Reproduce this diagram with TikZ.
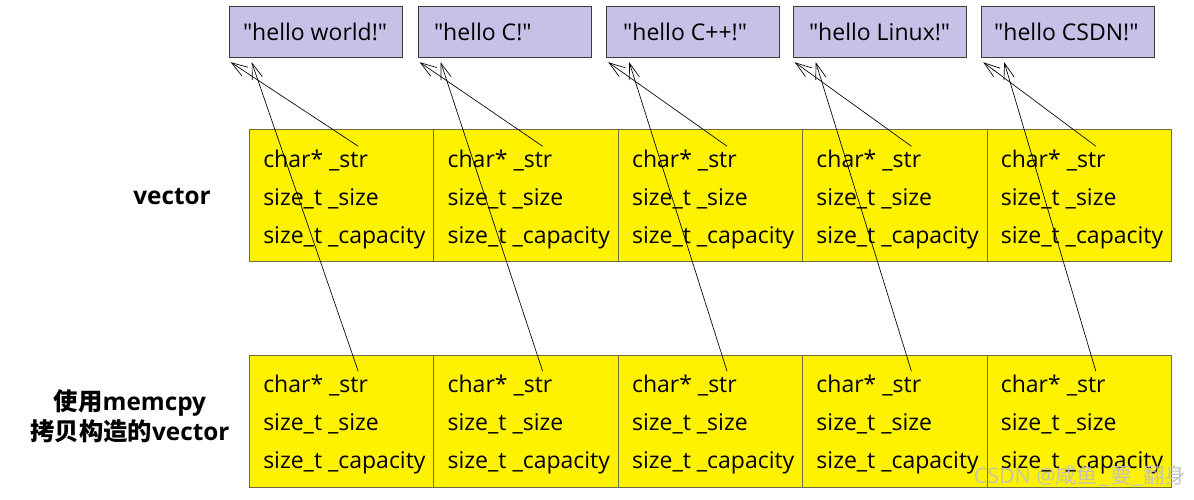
\documentclass[tikz,border=0pt]{standalone}
\usepackage{fontspec}
\setmainfont{Open Sans}
\newfontfamily\cjk{Noto Sans CJK SC}
\usetikzlibrary{arrows.meta}
\definecolor{strfill}{RGB}{200,192,230}
\definecolor{strline}{RGB}{60,60,60}
\definecolor{cellfill}{RGB}{255,242,0}
\definecolor{cellline}{RGB}{110,110,60}
\tikzset{
 every node/.style={font=\fontsize{17.25}{20}\selectfont},
 strbox/.style={draw=strline, fill=strfill, minimum width=129.75pt,
   minimum height=38.25pt, inner sep=0pt},
 strtext/.style={anchor=west, inner sep=0pt},
 cell/.style={draw=cellline, fill=cellfill, minimum width=138.3pt,
   minimum height=99pt, anchor=north west, inner sep=0pt},
 field/.style={anchor=base west, inner sep=0pt},
 label/.style={font=\fontsize{18.25}{22.5}\selectfont\bfseries, align=center},
 ptr/.style={-{Straight Barb[length=12pt,width=8pt]}, line width=0.5pt},
 }
\newcommand{\qt}[1]{\textquotedbl#1\textquotedbl}

\begin{document}
\begin{tikzpicture}[x=0.75pt, y=-0.75pt]
    \useasboundingbox (0,0) rectangle (1194,499);
    % the strings
    \node[strbox] (s1) at (315.5, 31.5) {};
    \node[strbox] (s2) at (504.5, 31.5) {};
    \node[strbox] (s3) at (693, 31.5) {};
    \node[strbox] (s4) at (879.5, 31.5) {};
    \node[strbox] (s5) at (1068, 31.5) {};
    \node[strtext] (t1) at ([xshift=10.5pt]s1.west) {\qt{hello world!}};
    \node[strtext] (t2) at ([xshift=12pt]s2.west) {\qt{hello C!}};
    \node[strtext] (t3) at ([xshift=12.5pt]s3.west) {\qt{hello C++!}};
    \node[strtext] (t4) at ([xshift=12pt]s4.west) {\qt{hello Linux!}};
    \node[strtext] (t5) at ([xshift=9.5pt]s5.west) {\qt{hello CSDN!}};
    % row names
    \node[label] (lv) at (172, 197) {vector};
    \node[label] (lm) at (130, 416) {{\cjk 使用}memcpy\\{\cjk 拷贝构造的}vector};
    % the two vectors
    \foreach \i in {1,...,5} {
        \pgfmathsetmacro{\L}{249+184.4*(\i-1)}
        \node[cell] (v\i) at (\L, 129) {};
        \node[field] (vc\i) at (\L+14, 167) {char* \_str};
        \node[field] (vs\i) at (\L+14, 205) {size\_t \_size};
        \node[field] (vk\i) at (\L+14, 243) {size\_t \_capacity};
        \node[cell] (m\i) at (\L, 355) {};
        \node[field] (mc\i) at (\L+14, 392) {char* \_str};
        \node[field] (ms\i) at (\L+14, 430) {size\_t \_size};
        \node[field] (mk\i) at (\L+14, 468) {size\_t \_capacity};
    }
    % pointers
    \foreach \i in {1,...,5} {
        \draw[ptr] ([shift={(-10,-3)}]vc\i.north east) -- ([shift={(2,5)}]s\i.south west);
        \draw[ptr] ([shift={(-10,-3)}]mc\i.north east) -- ([shift={(23,5)}]s\i.south west);
    }
    \node[text=black!25, opacity=0.9, font=\fontsize{16}{18}\selectfont] (wm) at (1080, 476) {CSDN @{\cjk 咸鱼\_要\_翻身}};
\end{tikzpicture}
\end{document}
